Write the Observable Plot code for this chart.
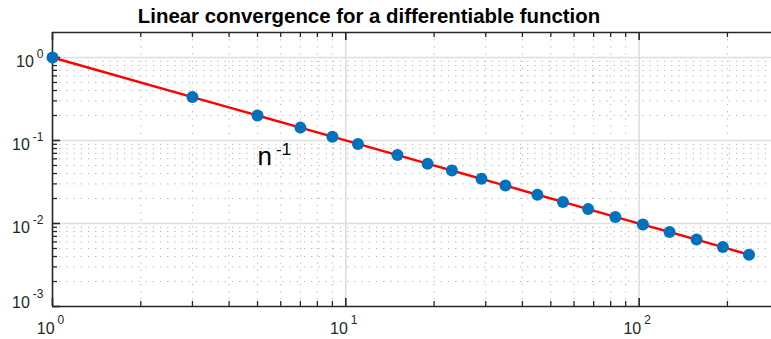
<!DOCTYPE html>
<html><head><meta charset="utf-8">
<script src="https://cdn.jsdelivr.net/npm/d3@7"></script>
<script src="https://cdn.jsdelivr.net/npm/@observablehq/plot@0.6"></script>
<style>
html,body{margin:0;padding:0;background:#fff;overflow:hidden;}
#title{height:31px;box-sizing:border-box;width:738px;text-align:center;font-weight:bold;font-size:20.4px;font-family:"Liberation Sans",Arial,sans-serif;line-height:20px;padding-top:6px;color:#000;white-space:nowrap;}
</style></head><body>
<div id="chart"><div id="title"></div></div>
<script>
const titleText = "Linear convergence for a differentiable function";
const iterations = [1,3,5,7,9,11,15,19,23,29,35,45,55,67,83,103,127,157,193,237];
const errors = [1,0.3333,0.2,0.1429,0.1111,0.0909,0.0667,0.0526,0.0435,0.0345,0.0286,0.0222,0.0182,0.0149,0.0120,0.0097,0.0079,0.0064,0.0052,0.0042];
const xMajor = [1,10,100];
const xMinor = [2,3,4,5,6,7,8,9,20,30,40,50,60,70,80,90,200];
const yMajor = [0.001,0.01,0.1,1];
const yMinor = [0.002,0.003,0.004,0.005,0.006,0.007,0.008,0.009,0.02,0.03,0.04,0.05,0.06,0.07,0.08,0.09,0.2,0.3,0.4,0.5,0.6,0.7,0.8,0.9];
const xTickLabels = ["10^0","10^1","10^2"];
const yTickLabels = ["10^-3","10^-2","10^-1","10^0"];
const annX = [5];
const annY = [0.05];
const annText = ["n^-1"];

document.getElementById("title").textContent = titleText;

const W = 771, H = 308, mL = 52, mR = 0, mT = 1, mB = 33;
const plotW = W - mL - mR, plotH = H - mT - mB;
const data = iterations.map((n, i) => ({n, e: errors[i]}));
const axisColor = "#262626";
const font = "Liberation Sans, Arial, Helvetica, sans-serif";

const plot = Plot.plot({
  width: W, height: H,
  marginLeft: mL, marginRight: mR, marginTop: mT, marginBottom: mB,
  x: {type: "log", domain: [1, 282.7], axis: null},
  y: {type: "log", domain: [0.001, 2], axis: null},
  style: {fontFamily: font, background: "#fff", overflow: "visible"},
  marks: [
    Plot.ruleX(xMinor, {x: d => d, stroke: "#b0b0b0", strokeDasharray: "1.2,6"}),
    Plot.ruleY(yMinor, {y: d => d, stroke: "#b0b0b0", strokeDasharray: "1.2,6"}),
    Plot.ruleX(xMajor.slice(1), {x: d => d, stroke: "#dedede", strokeWidth: 1.6}),
    Plot.ruleY(yMajor.slice(1), {y: d => d, stroke: "#dedede", strokeWidth: 1.6}),
    // ticks (inward)
    Plot.tickX(xMinor, {x: d => d, insetTop: plotH - 5, stroke: axisColor, strokeWidth: 1.3}),
    Plot.tickX(xMinor, {x: d => d, insetBottom: plotH - 5, stroke: axisColor, strokeWidth: 1.3}),
    Plot.tickX(xMajor, {x: d => d, insetTop: plotH - 8, stroke: axisColor, strokeWidth: 1.6}),
    Plot.tickX(xMajor, {x: d => d, insetBottom: plotH - 8, stroke: axisColor, strokeWidth: 1.6}),
    Plot.tickY(yMinor, {y: d => d, insetRight: plotW - 5, stroke: axisColor, strokeWidth: 1.3}),
    Plot.tickY(yMajor, {y: d => d, insetRight: plotW - 8, stroke: axisColor, strokeWidth: 1.6}),
    // axis lines
    Plot.ruleX([xMajor[0]], {x: d => d, stroke: axisColor, strokeWidth: 1.6}),
    Plot.ruleY([yMajor[0], 2], {y: d => d, stroke: axisColor, strokeWidth: 1.6}),
    // data
    Plot.line(data, {x: "n", y: "e", stroke: "#ff0000", strokeWidth: 2.4}),
    Plot.dot(data, {x: "n", y: "e", r: 6, fill: "#0072BD", stroke: "none"}),
    // tick labels
    Plot.text(xMajor, {x: d => d, text: (d, i) => xTickLabels[i], frameAnchor: "bottom", lineAnchor: "bottom", textAnchor: "middle", dx: -2, dy: 27, fontSize: 16, fill: axisColor}),
    Plot.text(yMajor.slice(1), {y: d => d, text: (d, i) => yTickLabels[i + 1], frameAnchor: "left", lineAnchor: "bottom", textAnchor: "end", dx: -9, dy: 10, fontSize: 16, fill: axisColor}),
    Plot.text([yMajor[0]], {y: d => d, text: (d, i) => yTickLabels[i], frameAnchor: "left", lineAnchor: "bottom", textAnchor: "end", dx: -9, dy: 1, fontSize: 16, fill: axisColor}),
    // annotation
    Plot.text(annX, {x: d => d, y: (d, i) => annY[i], text: (d, i) => annText[i], textAnchor: "start", lineAnchor: "bottom", fontSize: 26, fill: "#000"})
  ]
});

document.getElementById("chart").appendChild(plot);

const annSet = new Set(annText);
plot.querySelectorAll("text").forEach(el => {
  const s = el.textContent;
  if (!s || s.indexOf("^") < 0) return;
  const parts = s.split("^");
  const isAnn = annSet.has(s);
  const supSize = isAnn ? 17 : 12;
  const dx = isAnn ? 4 : 3;
  const dy = isAnn ? -10 : -9.5;
  while (el.firstChild) el.removeChild(el.firstChild);
  const ns = "http://www.w3.org/2000/svg";
  const t1 = document.createElementNS(ns, "tspan");
  t1.textContent = parts[0];
  const t2 = document.createElementNS(ns, "tspan");
  t2.setAttribute("dx", dx);
  t2.setAttribute("dy", dy);
  t2.setAttribute("font-size", supSize);
  t2.textContent = parts[1];
  el.appendChild(t1);
  el.appendChild(t2);
});
</script>
</body></html>
